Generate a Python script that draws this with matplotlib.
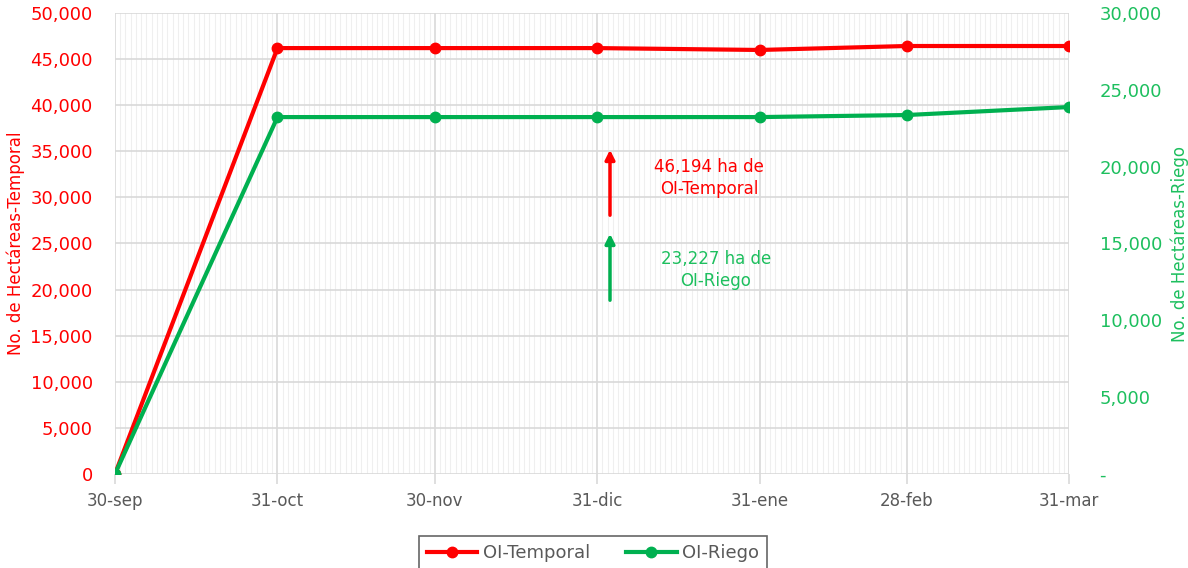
import matplotlib
matplotlib.use("Agg")
import matplotlib.pyplot as plt
import matplotlib.dates as mdates
import pandas as pd
from matplotlib.ticker import FuncFormatter, MultipleLocator

fechas = pd.to_datetime(["2022-09-30", "2022-10-31", "2022-11-30", "2022-12-31",
                         "2023-01-31", "2023-02-28", "2023-03-31"])
etiquetas = ["30-sep", "31-oct", "30-nov", "31-dic", "31-ene", "28-feb", "31-mar"]
temporal = [0, 46194, 46194, 46194, 45990, 46420, 46420]
riego = [0, 23227, 23227, 23227, 23227, 23360, 23880]

RED = "#FF0000"
GREEN = "#00B050"
GREEN_TXT = "#1DBF5E"
GREY = "#595959"
plt.rcParams['font.family'] = ['DejaVu Sans']

fig = plt.figure(figsize=(11.88, 5.68), dpi=100)
ax = fig.add_axes([115/1188, 1-474/568, (1069-115)/1188, (474-13)/568])
ax2 = ax.twinx()

ax.set_xlim(fechas[0], fechas[-1])
ax.set_ylim(0, 50000)
ax2.set_ylim(0, 30000)

ax.set_xticks(fechas)
ax.set_xticklabels(etiquetas)
ax.xaxis.set_minor_locator(mdates.DayLocator())
ax.yaxis.set_major_locator(MultipleLocator(5000))
ax.yaxis.set_major_formatter(FuncFormatter(lambda v, p: f"{int(v):,}"))
ax2.yaxis.set_major_locator(MultipleLocator(5000))
ax2.yaxis.set_major_formatter(FuncFormatter(lambda v, p: "-" if v == 0 else f"{int(v):,}"))

ax.grid(which="major", axis="both", color="#D9D9D9", linewidth=1.2)
ax.grid(which="minor", axis="x", color="#EFEFEF", linewidth=0.8)
ax.set_axisbelow(True)
for a in (ax, ax2):
    for s in a.spines.values():
        s.set_visible(False)

ax.tick_params(axis="x", which="major", colors="#D9D9D9", length=7, width=1.2,
               labelcolor=GREY, labelsize=12, pad=6)
ax.tick_params(axis="x", which="minor", length=0)
ax.tick_params(axis="y", length=0, labelcolor=RED, labelsize=13, pad=16)
ax2.tick_params(axis="y", length=0, labelcolor=GREEN_TXT, labelsize=13, pad=22)

ax.set_ylabel("No. de Hectáreas-Temporal", color=RED, fontsize=12, labelpad=4)
ax2.set_ylabel("No. de Hectáreas-Riego", color=GREEN_TXT, fontsize=12, labelpad=6)

l1, = ax.plot(fechas, temporal, color=RED, lw=3, marker="o", ms=7.5, label="OI-Temporal", zorder=5)
l2, = ax2.plot(fechas, riego, color=GREEN, lw=3, marker="o", ms=7.5, label="OI-Riego", zorder=5)

ax.annotate("", xy=(610/1188, 1-147/568), xytext=(610/1188, 1-218/568),
            xycoords="figure fraction", textcoords="figure fraction",
            arrowprops=dict(arrowstyle="-|>", color=RED, lw=2.5, mutation_scale=14))
ax.annotate("", xy=(610/1188, 1-231/568), xytext=(610/1188, 1-303/568),
            xycoords="figure fraction", textcoords="figure fraction",
            arrowprops=dict(arrowstyle="-|>", color=GREEN, lw=2.5, mutation_scale=14))
fig.text(709/1188, 1-178/568, "46,194 ha de\nOI-Temporal", color=RED, fontsize=12,
         ha="center", va="center", linespacing=1.35)
fig.text(716/1188, 1-270/568, "23,227 ha de\nOI-Riego", color=GREEN_TXT, fontsize=12,
         ha="center", va="center", linespacing=1.35)

leg = fig.legend(handles=[l1, l2], loc="upper center", bbox_to_anchor=(593/1188, 1-536/568),
                 ncol=2, frameon=True, fancybox=False, fontsize=13, handlelength=2.8,
                 columnspacing=2.0, borderpad=0.45, borderaxespad=0.0, labelcolor=GREY,
                 handletextpad=0.3)
leg.get_frame().set_edgecolor("#404040")
leg.get_frame().set_linewidth(1.2)

fig.savefig("out.png", dpi=100)
